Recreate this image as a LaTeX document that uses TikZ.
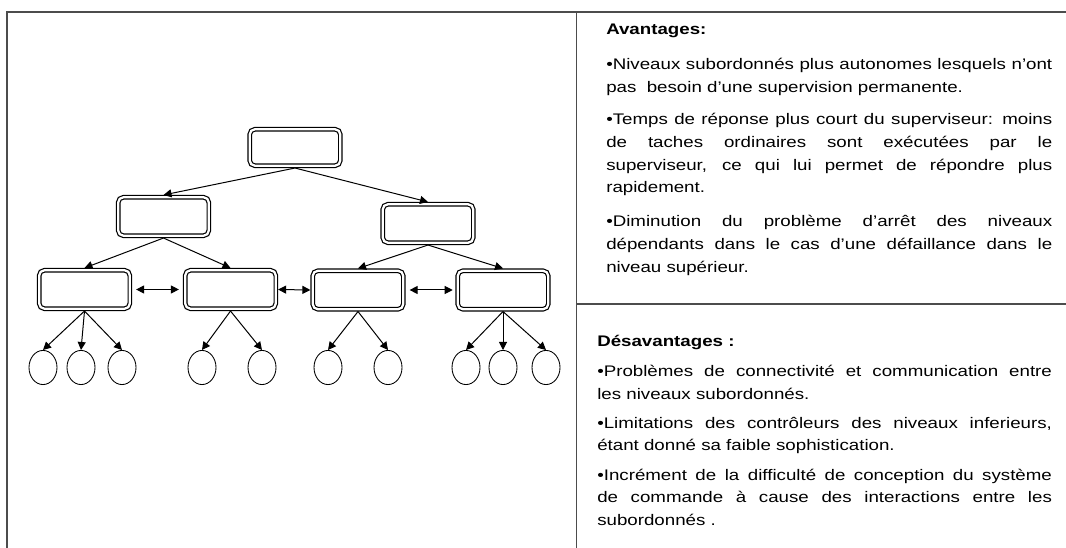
\documentclass[tikz,border=0pt]{standalone}
\usepackage{fontspec}
\setmainfont{Liberation Sans}[FakeStretch=1.22]
\usetikzlibrary{arrows.meta}
\usetikzlibrary{shapes.geometric}

\begin{document}
\begin{tikzpicture}[x=0.75pt,y=-0.75pt] % one unit = one pixel of the page
	\tikzset{ctrl/.style={draw,double,double distance=1.7pt,line width=0.9pt,rounded corners=4pt,minimum width=68pt,minimum height=28.9pt,inner sep=0pt,outer sep=1.7pt},
		proc/.style={draw,ellipse,line width=0.65pt,minimum width=21pt,minimum height=25.6pt,inner sep=0pt},
		link/.style={->,line width=0.75pt},
		both/.style={<->,line width=0.75pt},
		para/.style={anchor=base west,inner sep=0pt,align=justify,text width=#1,font=\fontsize{11.5}{16.9}\selectfont},
		tabline/.style={line width=1.1pt,black!70},
		>={Triangle[length=6pt,width=6pt]}}
	
	\useasboundingbox (0,0) rectangle (1066,548);
	
	% Lines of the table
	\draw[tabline] (7,548) -- (7,12) -- (1066,12);
	\draw[tabline] (576.5,12) -- (576.5,548);
	\draw[tabline] (576.5,304) -- (1066,304);
	
	% Controllers of the three levels
	\node[ctrl,minimum height=27.4pt] (top) at (295,147.5) {};
	\node[ctrl] (midl) at (163.5,216.5) {};
	\node[ctrl] (midr) at (428,223.5) {};
	\node[ctrl] (lowa) at (84.5,289.5) {};
	\node[ctrl] (lowb) at (230.5,289.5) {};
	\node[ctrl] (lowc) at (358,290) {};
	\node[ctrl] (lowd) at (503,290) {};
	
	% Arrows between the levels
	\draw[link] (top.south) -- (midl.north);
	\draw[link] (top.south) -- (midr.north);
	\draw[link] (midl.south) -- (lowa.north);
	\draw[link] (midl.south) -- (lowb.north);
	\draw[link] (midr.south) -- (lowc.north);
	\draw[link] (midr.south) -- (lowd.north);
	
	% Links between the subordinates
	\draw[both,shorten <=3pt,shorten >=3pt] (lowa.east) -- (lowb.west);
	\draw[both] (lowb.east) -- (lowc.west);
	\draw[both,shorten <=3pt,shorten >=2pt] (lowc.east) -- (lowd.west);
	
	% Processes at the bottom
	\foreach \x/\n/\p in {43/1/lowa,81/2/lowa,122/3/lowa,202/4/lowb,262/5/lowb,328/6/lowc,388/7/lowc,466/8/lowd,503/9/lowd,546/10/lowd}
	{
		\node[proc] (p\n) at (\x,367.5) {};
		\draw[link] (\p.south) -- (p\n.north);
	}
	
	% Advantages
	\node[para=334.5pt] (adv) at (606,35) {\bfseries Avantages:};
	\node[para=334.5pt] (adva) at (606,70) {•Niveaux subordonnés plus autonomes lesquels n’ont\linebreak pas\ \ besoin d’une supervision permanente.};
	\node[para=334.5pt] (advb) at (606,125) {•Temps de réponse plus court du superviseur: moins\linebreak de taches ordinaires sont exécutées par le\linebreak superviseur, ce qui lui permet de répondre plus\linebreak rapidement.};
	\node[para=334.5pt] (advc) at (606,227) {•Diminution du problème d’arrêt des niveaux\linebreak dépendants dans le cas d’une défaillance dans le\linebreak niveau supérieur.};
	
	% Disadvantages
	\node[para=341pt] (dis) at (597,346.7) {\bfseries Désavantages :};
	\node[para=341pt] (disa) at (597,376.7) {•Problèmes de connectivité et communication entre\linebreak les niveaux subordonnés.};
	\node[para=341pt] (disb) at (597,428.3) {•Limitations des contrôleurs des niveaux inferieurs,\linebreak étant donné sa faible sophistication.};
	\node[para=341pt] (disc) at (597,480) {•Incrément de la difficulté de conception du système\linebreak de commande à cause des interactions entre les\linebreak subordonnés .};
	
\end{tikzpicture}
\end{document}
